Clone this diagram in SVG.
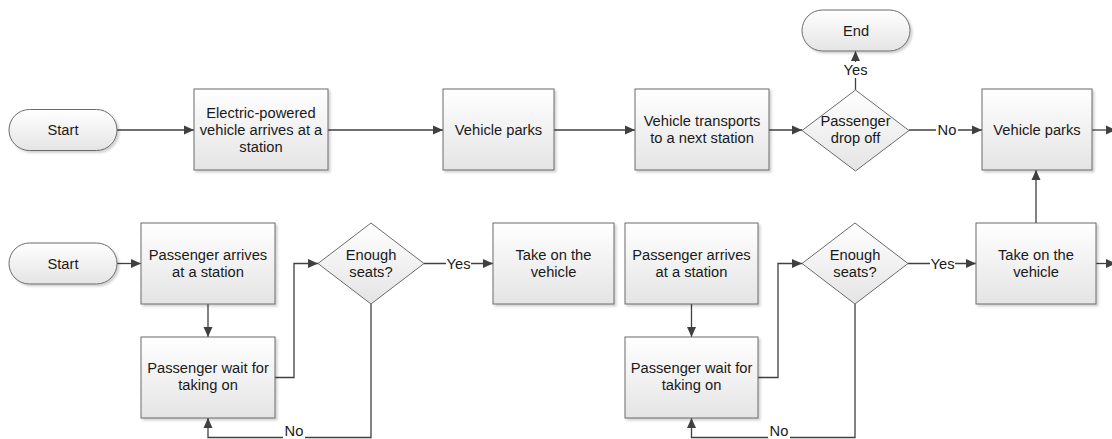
<svg xmlns="http://www.w3.org/2000/svg" width="1112" height="439" viewBox="0 0 1112 439">
<defs>
<linearGradient id="g" x1="0" y1="0" x2="0" y2="1">
<stop offset="0" stop-color="#ffffff"/>
<stop offset="1" stop-color="#e4e4e4"/>
</linearGradient>
<filter id="sh" x="-10%" y="-10%" width="130%" height="130%">
<feDropShadow dx="2" dy="2" stdDeviation="1" flood-color="#000" flood-opacity="0.18"/>
</filter>
<marker id="ah" markerUnits="userSpaceOnUse" markerWidth="10" markerHeight="10" viewBox="0 0 10 10" refX="10" refY="5" orient="auto">
<path d="M0,0.5 L10,5 L0,9.5 z" fill="#404040"/>
</marker>
</defs>
<style>
.box{fill:url(#g);stroke:#6b6b6b;stroke-width:1;filter:url(#sh)}
.dia{fill:url(#g);stroke:#6b6b6b;stroke-width:1}
.t{font-family:"Liberation Sans",Arial,sans-serif;font-size:14.7px;fill:#1a1a1a;text-anchor:middle}
.c{fill:none;stroke:#404040;stroke-width:1.3}
.a{marker-end:url(#ah)}
.lb{fill:#ffffff}
</style>
<rect width="1112" height="439" fill="#ffffff"/>

<g id="connectors">
<path class="c a" d="M117,130 H194"/>
<path class="c a" d="M328,130 H443"/>
<path class="c a" d="M554,130 H635"/>
<path class="c a" d="M769,130 H802"/>
<path class="c a" d="M909,130 H982"/>
<path class="c a" d="M855.5,90 V51"/>
<path class="c a" d="M1092,130 H1116"/>
<path class="c a" d="M1036,223 V170"/>
<path class="c a" d="M117,263.5 H141"/>
<path class="c a" d="M208,304 V337"/>
<path class="c a" d="M275,377.5 H294 V263.5 H318"/>
<path class="c a" d="M371,304 V437.5 H208 V418"/>
<path class="c a" d="M424,263.5 H493"/>
<path class="c a" d="M691.5,304 V337"/>
<path class="c a" d="M758,377.5 H778 V263.5 H802"/>
<path class="c a" d="M855,304 V437.5 H691.5 V418"/>
<path class="c a" d="M908,263.5 H976"/>
<path class="c a" d="M1096,263.5 H1116"/>
<g id="labels">
<rect class="lb" x="843" y="62" width="25" height="16"/>
<text class="t" x="855.5" y="75">Yes</text>
<rect class="lb" x="936" y="122" width="22" height="16"/>
<text class="t" x="947" y="135">No</text>
<rect class="lb" x="446" y="255" width="25" height="16"/>
<text class="t" x="458.5" y="268.5">Yes</text>
<rect class="lb" x="930" y="255" width="25" height="16"/>
<text class="t" x="942.5" y="268.5">Yes</text>
<rect class="lb" x="283" y="426" width="22" height="13"/>
<text class="t" x="294" y="435.5">No</text>
<rect class="lb" x="768" y="426" width="22" height="13"/>
<text class="t" x="779" y="435.5">No</text>
</g>
</g>

<g id="start1">
<rect class="box" x="9" y="109.5" width="108" height="41" rx="20.5"/>
<text class="t" x="63" y="135">Start</text>
</g>
<g id="arrive1">
<rect class="box" x="194" y="89" width="134" height="81"/>
<text class="t" x="261" y="117.6">Electric-powered</text>
<text class="t" x="261" y="134.6">vehicle arrives at a</text>
<text class="t" x="261" y="151.6">station</text>
</g>
<g id="parks1">
<rect class="box" x="443" y="89" width="111" height="81"/>
<text class="t" x="498.5" y="135">Vehicle parks</text>
</g>
<g id="transport">
<rect class="box" x="635" y="89" width="134" height="81"/>
<text class="t" x="702" y="126">Vehicle transports</text>
<text class="t" x="702" y="143">to a next station</text>
</g>
<g id="dropoff">
<path class="dia" d="M855.5,90 L909,130.5 L855.5,171 L802,130.5 z"/>
<text class="t" x="855.5" y="126">Passenger</text>
<text class="t" x="855.5" y="143">drop off</text>
</g>
<g id="end">
<rect class="box" x="802" y="10" width="108" height="41" rx="20.5"/>
<text class="t" x="856" y="35.5">End</text>
</g>
<g id="parks2">
<rect class="box" x="982" y="89" width="110" height="81"/>
<text class="t" x="1037" y="135">Vehicle parks</text>
</g>

<g id="start2">
<rect class="box" x="9" y="243" width="108" height="41" rx="20.5"/>
<text class="t" x="63" y="268.5">Start</text>
</g>
<g id="passArrive1">
<rect class="box" x="141" y="223" width="134" height="81"/>
<text class="t" x="208" y="259.5">Passenger arrives</text>
<text class="t" x="208" y="276.5">at a station</text>
</g>
<g id="passWait1">
<rect class="box" x="141" y="337" width="134" height="81"/>
<text class="t" x="208" y="373">Passenger wait for</text>
<text class="t" x="208" y="390">taking on</text>
</g>
<g id="seats1">
<path class="dia" d="M371,223 L424,263.5 L371,304 L318,263.5 z"/>
<text class="t" x="371" y="259.5">Enough</text>
<text class="t" x="371" y="276.5">seats?</text>
</g>
<g id="takeOn1">
<rect class="box" x="493" y="223" width="121" height="81"/>
<text class="t" x="553.5" y="259.5">Take on the</text>
<text class="t" x="553.5" y="276.5">vehicle</text>
</g>
<g id="passArrive2">
<rect class="box" x="625" y="223" width="133" height="81"/>
<text class="t" x="691.5" y="259.5">Passenger arrives</text>
<text class="t" x="691.5" y="276.5">at a station</text>
</g>
<g id="passWait2">
<rect class="box" x="625" y="337" width="133" height="81"/>
<text class="t" x="691.5" y="373">Passenger wait for</text>
<text class="t" x="691.5" y="390">taking on</text>
</g>
<g id="seats2">
<path class="dia" d="M855,223 L908,263.5 L855,304 L802,263.5 z"/>
<text class="t" x="855" y="259.5">Enough</text>
<text class="t" x="855" y="276.5">seats?</text>
</g>
<g id="takeOn2">
<rect class="box" x="976" y="223" width="120" height="81"/>
<text class="t" x="1036" y="259.5">Take on the</text>
<text class="t" x="1036" y="276.5">vehicle</text>
</g>
</svg>
